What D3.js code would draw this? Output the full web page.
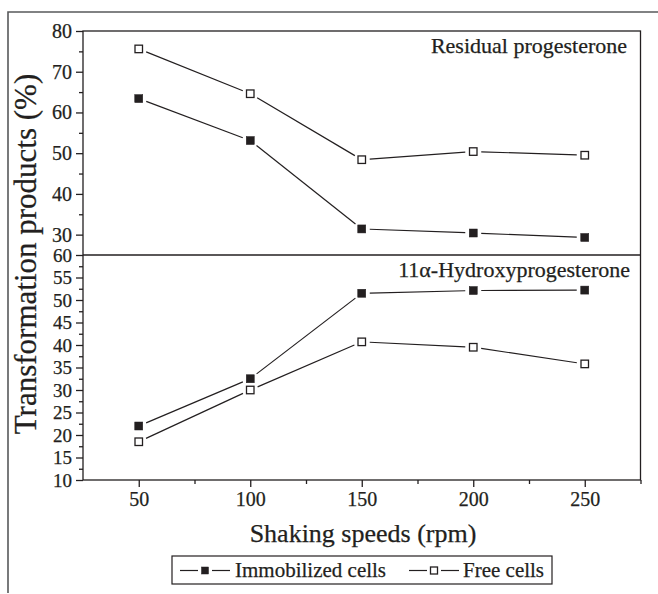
<!DOCTYPE html>
<html><head><meta charset="utf-8">
<script src="https://cdn.jsdelivr.net/npm/d3@7"></script>
<style>body{margin:0;background:#fff;} text{font-family:"Liberation Serif","Times New Roman",serif;fill:#231f20;stroke:#231f20;stroke-width:0.25px;}</style>
</head><body><svg id="c" width="658" height="594"></svg>
<script>
const speeds = [50, 100, 150, 200, 250];
const residualImmobilized = [63.4, 53.1, 31.4, 30.4, 29.3];
const residualFree = [75.6, 64.6, 48.4, 50.4, 49.5];
const hydroxyImmobilized = [22.0, 32.5, 51.5, 52.1, 52.2];
const hydroxyFree = [18.5, 30.0, 40.7, 39.5, 35.8];
const xTicks = [50, 100, 150, 200, 250];
const upperTicks = [30, 40, 50, 60, 70, 80];
const lowerTicks = [10, 15, 20, 25, 30, 35, 40, 45, 50, 55, 60];
const seriesNames = ["Immobilized cells", "Free cells"];

const ink = "#231f20";
const serif = '"Liberation Serif","Times New Roman",serif';
const svg = d3.select("#c");
const L = 83, R = 640.5, T = 31, M = 255, B = 480;

// outer frame (top + left)
svg.append("path").attr("d", `M8,593V12H658`).attr("fill","none").attr("stroke","#58595b").attr("stroke-width",1.6);

const x = d3.scaleLinear().domain([25, 275]).range([L, R]);
const yU = d3.scaleLinear().domain([25, 80]).range([M, T]);
const yL = d3.scaleLinear().domain([10, 60]).range([B, M]);

// plot frame
svg.append("rect").attr("x",L).attr("y",T).attr("width",R-L).attr("height",B-T)
  .attr("fill","none").attr("stroke",ink).attr("stroke-width",1.3);
svg.append("line").attr("x1",L).attr("x2",R).attr("y1",M).attr("y2",M).attr("stroke",ink).attr("stroke-width",1.3);

function styleAxis(g, fs){
  g.attr("font-family", null).attr("font-size", null);
  g.select(".domain").remove();
  g.selectAll("line").attr("stroke",ink).attr("stroke-width",1.3);
  g.selectAll("text").attr("font-size",fs).attr("fill",ink).style("font-family",serif);
}

// x axis
const gx = svg.append("g").attr("transform",`translate(0,${B})`)
  .call(d3.axisBottom(x).tickValues(xTicks).tickSize(7).tickPadding(5).tickFormat(d3.format("d")));
styleAxis(gx, 20);
const gxm = svg.append("g").attr("transform",`translate(0,${B})`)
  .call(d3.axisBottom(x).tickValues([75,125,175,225,275]).tickSize(4).tickFormat(""));
styleAxis(gxm, 20);

// upper y axis
const gu = svg.append("g").attr("transform",`translate(${L},0)`)
  .call(d3.axisLeft(yU).tickValues(upperTicks).tickSize(7).tickPadding(4).tickFormat(d3.format("d")));
styleAxis(gu, 20);
const gum = svg.append("g").attr("transform",`translate(${L},0)`)
  .call(d3.axisLeft(yU).tickValues([35,45,55,65,75]).tickSize(4).tickFormat(""));
styleAxis(gum, 20);

// lower y axis
const gl = svg.append("g").attr("transform",`translate(${L},0)`)
  .call(d3.axisLeft(yL).tickValues(lowerTicks).tickSize(7).tickPadding(4).tickFormat(d3.format("d")));
styleAxis(gl, 19);
const minorL = d3.range(12.5, 60, 5);
const glm = svg.append("g").attr("transform",`translate(${L},0)`)
  .call(d3.axisLeft(yL).tickValues(minorL).tickSize(4).tickFormat(""));
styleAxis(glm, 19);

// panel labels
svg.append("text").attr("x",627).attr("y",53).attr("text-anchor","end").attr("font-size",22).text("Residual progesterone");
svg.append("text").attr("x",630).attr("y",277).attr("text-anchor","end").attr("font-size",22).text("11α-Hydroxyprogesterone");

// axis titles
svg.append("text").attr("x",363).attr("y",542).attr("text-anchor","middle").attr("font-size",26).text("Shaking speeds (rpm)");
svg.append("text").attr("transform","translate(36,254) rotate(-90)").attr("text-anchor","middle").attr("font-size",31).text("Transformation products (%)");

// series drawing
const gap = 8;
function drawSeries(vals, yScale, filled){
  const pts = speeds.map((s,i)=>[x(s), yScale(vals[i])]);
  const g = svg.append("g");
  for(let i=0;i<pts.length-1;i++){
    const [x1,y1]=pts[i],[x2,y2]=pts[i+1];
    const dx=x2-x1, dy=y2-y1, len=Math.hypot(dx,dy);
    const ux=dx/len, uy=dy/len;
    g.append("line").attr("x1",x1+ux*gap).attr("y1",y1+uy*gap).attr("x2",x2-ux*gap).attr("y2",y2-uy*gap)
      .attr("stroke",ink).attr("stroke-width",1.2);
  }
  const s = filled ? 8 : 7.5;
  g.selectAll("rect.m").data(pts).join("rect")
    .attr("x",d=>d[0]-s/2).attr("y",d=>d[1]-s/2).attr("width",s).attr("height",s)
    .attr("fill",filled?ink:"#fff").attr("stroke",ink).attr("stroke-width",filled?0.5:1.3);
}
drawSeries(residualImmobilized, yU, true);
drawSeries(residualFree, yU, false);
drawSeries(hydroxyImmobilized, yL, true);
drawSeries(hydroxyFree, yL, false);

// legend
const lg = svg.append("g");
lg.append("rect").attr("x",172).attr("y",556).attr("width",380).attr("height",28).attr("fill","#fff").attr("stroke",ink).attr("stroke-width",1.2);
const legItems = [{name:seriesNames[0], filled:true, x0:180, tx:235},{name:seriesNames[1], filled:false, x0:409, tx:463}];
legItems.forEach(it=>{
  const cy = 570.5;
  lg.append("line").attr("x1",it.x0).attr("x2",it.x0+18).attr("y1",cy).attr("y2",cy).attr("stroke",ink).attr("stroke-width",1.2);
  lg.append("line").attr("x1",it.x0+32).attr("x2",it.x0+50).attr("y1",cy).attr("y2",cy).attr("stroke",ink).attr("stroke-width",1.2);
  lg.append("rect").attr("x",it.x0+21.5).attr("y",cy-3.5).attr("width",7).attr("height",7)
    .attr("fill",it.filled?ink:"#fff").attr("stroke",ink).attr("stroke-width",it.filled?0.5:1.3);
  lg.append("text").attr("x",it.tx).attr("y",577).attr("font-size",21).text(it.name);
});
</script></body></html>
